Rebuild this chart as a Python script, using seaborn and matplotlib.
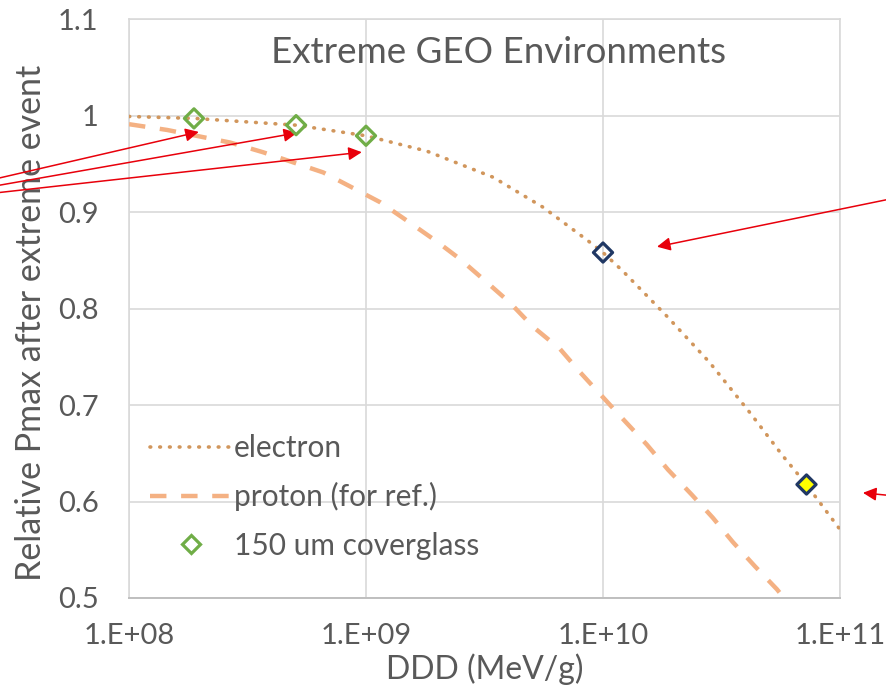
import numpy as np
import pandas as pd
import matplotlib
matplotlib.use("Agg")
import matplotlib.pyplot as plt
from matplotlib.lines import Line2D
import seaborn as sns

# Relative Pmax vs displacement damage dose (MeV/g)
electron_ddd = [1.0e8, 1.88e8, 5.07e8, 1.0e9, 1.81e9, 3.44e9, 5.58e9, 8.56e9,
                1.0e10, 1.21e10, 1.86e10, 2.82e10, 4.17e10, 5.75e10, 7.19e10, 1.0e11]
electron_pmax = [0.999, 0.997, 0.990, 0.979, 0.963, 0.936, 0.905, 0.871,
                 0.858, 0.839, 0.792, 0.744, 0.692, 0.647, 0.618, 0.571]

proton_ddd = [1.0e8, 1.45e8, 2.67e8, 3.67e8, 6.6e8, 8.8e8, 1.15e9, 1.53e9, 2.0e9,
              2.5e9, 3.24e9, 4.05e9, 5.07e9, 6.59e9, 8.0e9, 1.0e10, 1.24e10,
              1.53e10, 1.88e10, 2.37e10, 2.91e10, 3.53e10, 4.37e10, 5.42e10, 5.8e10]
proton_pmax = [0.991, 0.985, 0.972, 0.962, 0.941, 0.925, 0.910, 0.889, 0.869,
               0.851, 0.827, 0.806, 0.781, 0.758, 0.734, 0.708, 0.683,
               0.659, 0.633, 0.607, 0.583, 0.558, 0.533, 0.509, 0.500]

# 150 um coverglass cases
cover_ddd = [1.88e8, 5.07e8, 1.0e9]
cover_pmax = [0.997, 0.990, 0.979]

# highlighted electron cases
blue_ddd = [1.0e10]
blue_pmax = [0.858]
yellow_ddd = [7.19e10]
yellow_pmax = [0.618]

x_ticks = [1e8, 1e9, 1e10, 1e11]
y_ticks = [0.5, 0.6, 0.7, 0.8, 0.9, 1.0, 1.1]

title_text = "Extreme GEO Environments"
x_label = "DDD (MeV/g)"
y_label = "Relative Pmax after extreme event"
legend_labels = ["electron", "proton (for ref.)", "150 um coverglass"]

sns.set_theme(style="white")
plt.rcParams["font.family"] = ["Lato", "DejaVu Sans"]

TXT = "#595959"
GRID = "#D9D9D9"
E_COL = "#D1965C"
P_COL = "#F4B183"
G_COL = "#70AD47"
NAVY = "#203864"
E_DASH = [0.2, 2.5]
P_DASH = [3.7, 3.3]

fig = plt.figure(figsize=(8.87, 7.0), dpi=100)
ax = fig.add_axes([129 / 887, 102 / 700, 711 / 887, 579 / 700])

df_e = pd.DataFrame({"ddd": electron_ddd, "pmax": electron_pmax})
df_p = pd.DataFrame({"ddd": proton_ddd, "pmax": proton_pmax})

sns.lineplot(data=df_p, x="ddd", y="pmax", ax=ax, color=P_COL, lw=3.2,
             sort=False, estimator=None, zorder=3)
ax.lines[-1].set_dashes(P_DASH)
ax.lines[-1].set_dash_capstyle("butt")
sns.lineplot(data=df_e, x="ddd", y="pmax", ax=ax, color=E_COL, lw=2.6,
             sort=False, estimator=None, zorder=4)
ax.lines[-1].set_dashes(E_DASH)
ax.lines[-1].set_dash_capstyle("round")

sns.scatterplot(x=cover_ddd, y=cover_pmax, ax=ax, marker="D", s=95,
                facecolor="none", edgecolor=G_COL, linewidth=2.3, zorder=5)
sns.scatterplot(x=blue_ddd, y=blue_pmax, ax=ax, marker="D", s=95,
                facecolor="none", edgecolor=NAVY, linewidth=2.3, zorder=5)
sns.scatterplot(x=yellow_ddd, y=yellow_pmax, ax=ax, marker="D", s=95,
                facecolor="#FFFF00", edgecolor=NAVY, linewidth=2.3, zorder=5)

ax.set_xscale("log")
ax.set_xlim(1e8, 1e11)
ax.set_ylim(0.5, 1.1)
ax.set_xticks(x_ticks)
ax.set_xticklabels([f"1.E+{int(round(np.log10(v))):02d}" for v in x_ticks])
ax.xaxis.set_minor_locator(matplotlib.ticker.NullLocator())
ax.set_yticks(y_ticks)
ax.set_yticklabels([f"{v:g}" for v in y_ticks])

ax.grid(True, which="major", color=GRID, lw=1.2)
ax.set_axisbelow(True)
for side in ["top", "right", "left"]:
    ax.spines[side].set_color(GRID)
    ax.spines[side].set_linewidth(1.2)
ax.spines["bottom"].set_color("#BFBFBF")
ax.spines["bottom"].set_linewidth(1.4)

ax.tick_params(axis="both", length=0, labelsize=21, labelcolor=TXT)
ax.tick_params(axis="y", pad=22)
ax.tick_params(axis="x", pad=18)

ax.set_xlabel(x_label, fontsize=23, color=TXT, labelpad=3)
ax.set_ylabel(y_label, fontsize=24.5, color=TXT, labelpad=6)
ax.yaxis.set_label_coords(-0.115, 0.475)

ax.text(0.519, 0.924, title_text, transform=ax.transAxes, ha="center",
        va="baseline", fontsize=26.5, color=TXT)

handles = [
    Line2D([], [], color=E_COL, lw=2.6, dashes=E_DASH, dash_capstyle="round"),
    Line2D([], [], color=P_COL, lw=3.2, dashes=P_DASH),
    Line2D([], [], ls="none", marker="D", ms=9.5, mfc="none", mec=G_COL, mew=2.3),
]
ax.legend(handles, legend_labels, loc="lower left", bbox_to_anchor=(0.0, 0.03),
          frameon=False, fontsize=21.5, labelcolor=TXT, handlelength=2.75,
          handletextpad=0.05, labelspacing=0.68, borderaxespad=0.3)

# callout arrows pointing at the cases of interest
arrow_tips = [(1.97e8, 0.983), (5.12e8, 0.982), (9.6e8, 0.962),
              (1.69e10, 0.864), (1.25e11, 0.609)]
arrow_tails = [(-5, 521), (-5, 514), (-5, 507), (895, 502), (895, 204)]
for tip, tail in zip(arrow_tips, arrow_tails):
    ax.annotate("", xy=tip, xycoords="data", xytext=tail,
                textcoords="figure pixels", annotation_clip=False,
                arrowprops=dict(arrowstyle="-|>", color="#E8000B", lw=1.1,
                                mutation_scale=20, shrinkA=0, shrinkB=0))

fig.savefig("out.png", dpi=100)
